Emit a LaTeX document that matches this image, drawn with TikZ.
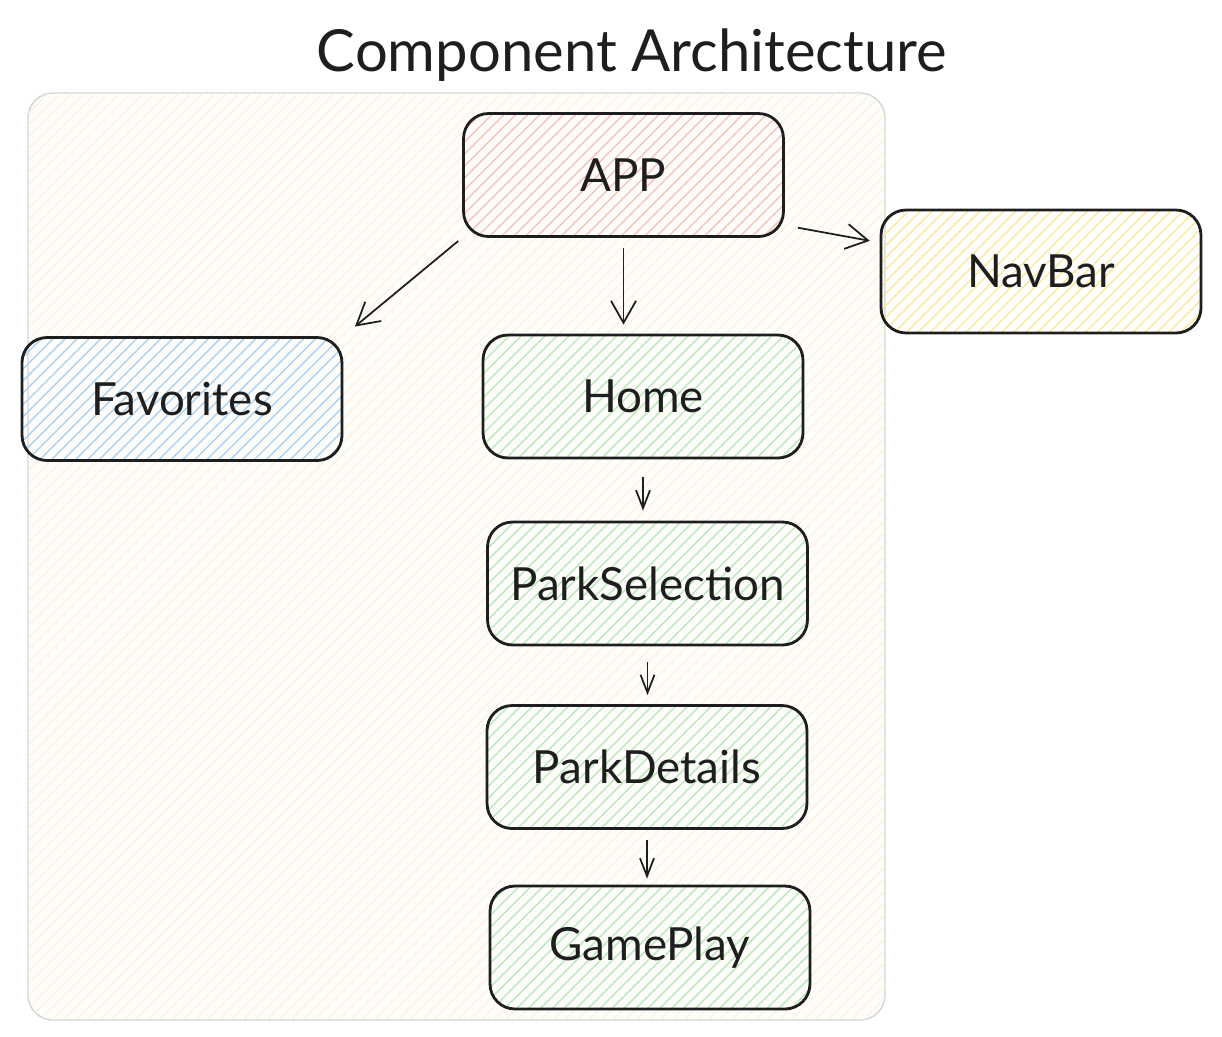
\documentclass[tikz,border=0pt]{standalone}
\usepackage{fontspec}
\setmainfont{Lato}
\usetikzlibrary{arrows.meta,patterns.meta}

\definecolor{ink}{HTML}{1E1E1E}
\definecolor{frame}{HTML}{D4D4D4}
\definecolor{paper}{HTML}{FEFDF9}
\definecolor{paperline}{HTML}{F6F3DF}
\definecolor{appred}{HTML}{F7C4C0}
\definecolor{navyellow}{HTML}{FCE79A}
\definecolor{favblue}{HTML}{A9D4F7}
\definecolor{pagegreen}{HTML}{B7EBBE}

\tikzset{
  comp/.style={draw=ink, line width=1.6pt, rounded corners=0.5cm,
    minimum width=6.4cm, minimum height=2.46cm, text=ink,
    font=\fontsize{26}{30}\selectfont,
    pattern={Lines[angle=45,distance=4.8pt,line width=0.8pt]}, pattern color=#1},
  link/.style={draw=ink, line width=1pt, -{Straight Barb[length=0.44cm,width=0.5cm]}},
  shortlink/.style={draw=ink, line width=1pt, -{Straight Barb[length=0.36cm,width=0.28cm]}},
}

\begin{document}
\begin{tikzpicture}[x=0.02cm,y=-0.02cm]
  \useasboundingbox (0,0) rectangle (1222,1036);
  % container
  \draw[draw=frame, line width=0.8pt, rounded corners=0.5cm, fill=paper,
    postaction={pattern={Lines[angle=45,distance=4.8pt,line width=0.6pt]}, pattern color=paperline}]
    (28,93) rectangle (885,1020);
  \node[text=ink, font=\fontsize{33}{38}\selectfont] (title) at (632,55) {Component Architecture};

  % components
  \node[comp=appred] (app) at (623.5,175) {APP};
  \node[comp=navyellow] (navbar) at (1041,271.5) {NavBar};
  \node[comp=favblue] (favorites) at (182,399) {Favorites};
  \node[comp=pagegreen] (home) at (643,396.5) {Home};
  \node[comp=pagegreen] (parksel) at (647.5,583.5) {ParkSelection};
  \node[comp=pagegreen] (parkdet) at (647,767) {ParkDetails};
  \node[comp=pagegreen] (gameplay) at (650,947.5) {GamePlay};

  % links
  \draw[link, shorten <=0.12cm, shorten >=0.3cm] (app.south west) -- (favorites.north east);
  \draw[link, shorten <=0.22cm, shorten >=0.18cm] (app.south) -- (app.south |- home.north);
  \draw[link, shorten <=0.28cm, shorten >=0.2cm] ([yshift=0.24cm]app.south east) -- ([yshift=-0.68cm]navbar.north west);
  \draw[shortlink, shorten <=0.36cm, shorten >=0.2cm] (home.south) -- (home.south |- parksel.north);
  \draw[shortlink, shorten <=0.32cm, shorten >=0.18cm] (parksel.south) -- (parksel.south |- parkdet.north);
  \draw[shortlink, shorten <=0.2cm, shorten >=0.12cm] (parkdet.south) -- (parkdet.south |- gameplay.north);
\end{tikzpicture}
\end{document}
